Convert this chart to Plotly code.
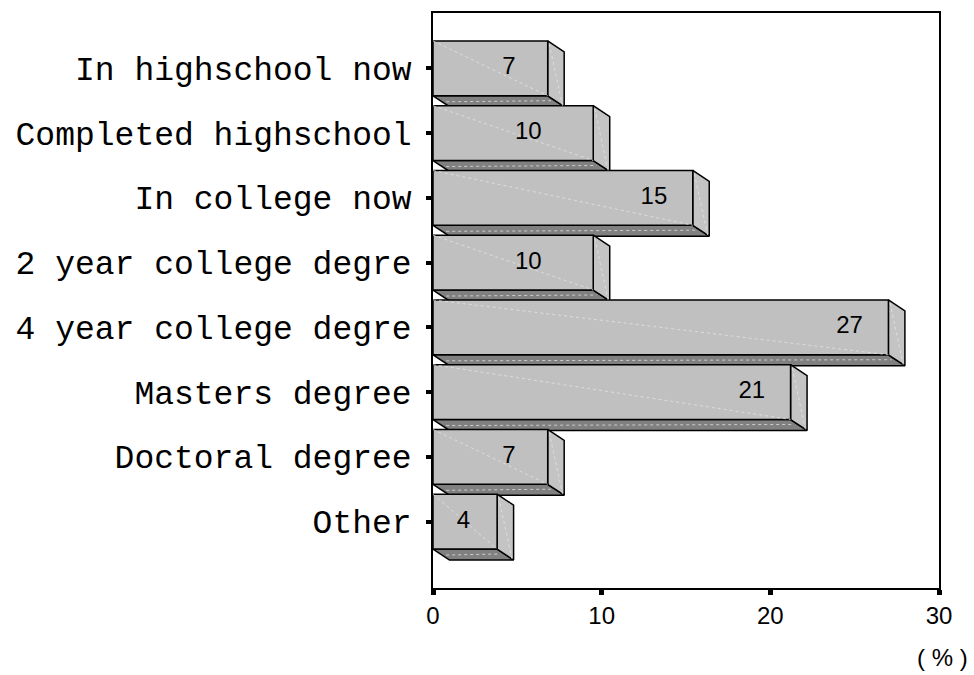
import plotly.graph_objects as go

# ---- data ----
categories = ["In highschool now", "Completed highschool", "In college now",
              "2 year college degre", "4 year college degre", "Masters degree",
              "Doctoral degree", "Other"]
values = [6.8, 9.5, 15.4, 9.5, 27.0, 21.2, 6.8, 3.8]
value_labels = ["7", "10", "15", "10", "27", "21", "7", "4"]
x_ticks = [0, 10, 20, 30]

# ---- layout geometry ----
W, H = 974, 675
L, R, T, B = 433, 35, 11, 87
xmax = 30
yrange = [8.025, -0.855]
pw, ph = W - L - R, H - T - B
ux = xmax / pw                       # data units per pixel (x)
uy = (yrange[0] - yrange[1]) / ph    # data units per pixel (y)
half = 27.5 * uy
dx = 16.5 * ux
dy = 11 * uy

fx, fy, sx, sy, bx, by = [], [], [], [], [], []
lx, ly = [], []
for i, v in enumerate(values):
    top, bot = i - half, i + half
    fx += [0, v, v, 0, 0, None]
    fy += [top, top, bot, bot, top, None]
    sx += [v, v + dx, v + dx, v, v, None]
    sy += [top, top + dy, bot + dy, bot, top, None]
    bx += [0, v, v + dx, dx, 0, None]
    by += [bot, bot, bot + dy, bot + dy, bot, None]
    # subtle highlight lines
    lx += [0, v, None, v + dx * 0.1, v + dx * 0.9, None, dx * 0.8, v + dx * 0.2, None]
    ly += [top, bot, None, top + dy * 0.3, bot + dy * 0.9, None,
           bot + dy * 0.55, bot + dy * 0.45, None]

outline = dict(color="black", width=1.5)
fig = go.Figure()
fig.add_trace(go.Scatter(x=bx, y=by, mode="lines", fill="toself",
                         fillcolor="#808080", line=outline, hoverinfo="skip"))
fig.add_trace(go.Scatter(x=sx, y=sy, mode="lines", fill="toself",
                         fillcolor="#c4c4c4", line=outline, hoverinfo="skip"))
fig.add_trace(go.Scatter(x=fx, y=fy, mode="lines", fill="toself",
                         fillcolor="#c0c0c0", line=outline, hoverinfo="skip"))
fig.add_trace(go.Scatter(x=lx, y=ly, mode="lines",
                         line=dict(color="rgba(230,230,230,0.75)", width=1, dash="dot"),
                         hoverinfo="skip"))

# value labels: placed near the right end of each bar
label_x = []
for v in values:
    off = 2.3
    if v < 5:
        off = 2.0
    if abs(v - 9.5) < 0.3:
        off = 3.85
    label_x.append(v - off)
fig.add_trace(go.Scatter(x=label_x, y=list(range(len(values))), mode="text",
                         text=value_labels,
                         textfont=dict(family="Liberation Sans", size=24, color="black"),
                         hoverinfo="skip"))

fig.update_layout(
    width=W, height=H, showlegend=False,
    margin=dict(l=L, r=R, t=T, b=B),
    paper_bgcolor="white", plot_bgcolor="white",
    xaxis=dict(range=[0, xmax], tickvals=x_ticks, ticktext=[str(t) for t in x_ticks],
               showgrid=False, zeroline=False, showline=True, mirror=True,
               linecolor="black", linewidth=1.5, ticks="outside", ticklen=5,
               tickwidth=5, tickcolor="black",
               tickfont=dict(family="Liberation Sans", size=24, color="black")),
    yaxis=dict(range=yrange, tickvals=list(range(len(categories))), ticktext=categories,
               showgrid=False, zeroline=False, showline=True, mirror=True,
               linecolor="black", linewidth=1.5, ticks="outside", ticklen=5,
               tickwidth=4, tickcolor="black", ticklabelstandoff=8,
               tickfont=dict(family="Liberation Mono", size=33, color="black")),
    annotations=[dict(text="( % )", x=1.006, y=-0.12, xref="paper", yref="paper",
                      xanchor="center", yanchor="middle", showarrow=False,
                      font=dict(family="Liberation Sans", size=24, color="black"))],
)

fig.write_html("out.html")
